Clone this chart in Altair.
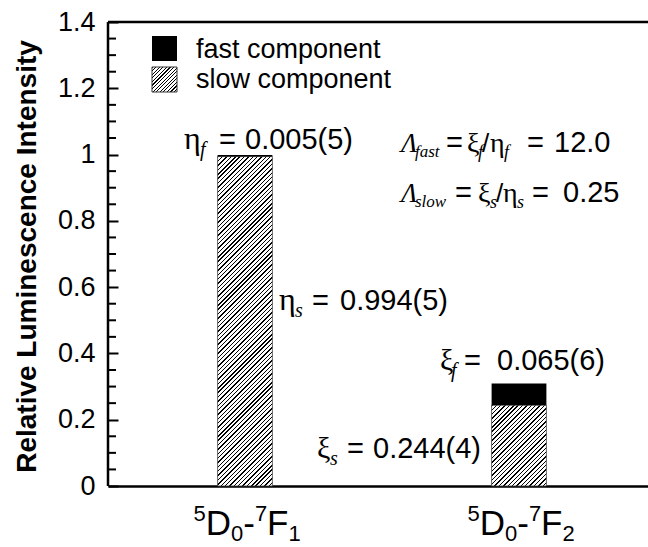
import math
import altair as alt
import pandas as pd

# ---- data -----------------------------------------------------------------
transitions = ["5D0-7F1", "5D0-7F2"]
slow_values = [0.994, 0.244]          # eta_s, xi_s
fast_values = [0.005, 0.065]          # eta_f, xi_f
slow_err = ["5", "4"]
fast_err = ["5", "6"]
lambda_fast = "12.0"
lambda_slow = "0.25"

major_ticks = [0, 0.2, 0.4, 0.6, 0.8, 1.0, 1.2, 1.4]
minor_ticks = [0.05, 0.1, 0.15, 0.25, 0.3, 0.35, 0.45, 0.5, 0.55, 0.65, 0.7,
               0.75, 0.85, 0.9, 0.95, 1.05, 1.1, 1.15, 1.25, 1.3, 1.35]

# ---- layout ---------------------------------------------------------------
LEFT, TOP, W, H = 108, 22, 540, 464
X_RANGE = 548                      # band range runs slightly past the right edge
Y_MAX = major_ticks[-1]
TICK = 10                          # inward tick length
SANS = "Liberation Sans, Arial, Helvetica, sans-serif"
SERIF = "Liberation Serif, Times New Roman, serif"
STEP = X_RANGE / 2
BAND = 0.2 * STEP

df = pd.DataFrame({"transition": transitions, "slow": slow_values, "fast": fast_values})


def hatch(w, h, spacing=3.1, ink=0.33):
    """Diagonal '/' hatching as a striped linear gradient for a w x h box."""
    k = (w + h) / (w * w + h * h)
    span = (w + h) / math.sqrt(2)
    n = max(1, round(span / spacing))
    stops = []
    for i in range(n):
        a, b, c = i / n, (i + ink) / n, (i + 1) / n
        stops += [alt.GradientStop(offset=a, color="black"),
                  alt.GradientStop(offset=b, color="black"),
                  alt.GradientStop(offset=b, color="white"),
                  alt.GradientStop(offset=c, color="white")]
    return alt.LinearGradient(gradient="linear", x1=0, y1=0, x2=k * w, y2=k * h, stops=stops)


x_scale = alt.Scale(type="band", range=[0, X_RANGE], paddingInner=0.8, paddingOuter=0.4)
y_scale = alt.Scale(domain=[0, Y_MAX], nice=False)

# every layer carries the same axis definitions so they merge into one axis each.
# The y axis is pulled into the plot by the tick length so its ticks point inward;
# the axis line itself is drawn as a separate rule at the plot edge.
x_axis = alt.Axis(labels=False, ticks=False, title=None, domainWidth=2.5,
                  domainColor="black", grid=False)
y_axis = alt.Axis(values=major_ticks, format="~g", offset=-TICK, ticks=True, tickSize=TICK,
                  tickWidth=2, tickColor="black", domain=False, labelPadding=13,
                  labelFont=SANS, labelFontSize=27, labelColor="black", grid=False,
                  title="Relative Luminescence Intensity", titleFont=SANS,
                  titleFontSize=28, titleFontWeight="bold", titleColor="black",
                  titleAngle=270, titleAlign="center", titleBaseline="alphabetic",
                  titleX=35 - LEFT - TICK, titleY=256 - TOP)


def X(**kw):
    return alt.X("transition:N", sort=transitions, scale=x_scale, axis=x_axis, **kw)


def Y(field):
    return alt.Y(field, scale=y_scale, axis=y_axis)


base = alt.Chart(df)

# slow components (hatched), one layer per bar so each gets its own stripe geometry
slow_layers = []
for t, v in zip(transitions, slow_values):
    slow_layers.append(
        base.transform_filter(alt.datum.transition == t)
        .mark_bar(fill=hatch(BAND, v * H / Y_MAX), stroke="#444", strokeWidth=0.8)
        .encode(x=X(), y=Y("slow:Q"))
    )

# fast components (solid black) stacked on top
fast_layer = base.transform_calculate(total="datum.slow + datum.fast").mark_bar(color="black").encode(
    x=X(), y=Y("slow:Q"), y2="total:Q")

# minor inward ticks
minor_rules = alt.Chart(pd.DataFrame({"v": minor_ticks})).mark_rule(color="black", strokeWidth=2).encode(
    y=Y("v:Q"), x=alt.value(0), x2=alt.value(8))

# frame: top line and left axis line
top_rule = alt.Chart(pd.DataFrame({"v": [Y_MAX]})).mark_rule(color="black", strokeWidth=2.5).encode(
    y=Y("v:Q"), x=alt.value(0), x2=alt.value(X_RANGE))
left_rule = alt.Chart(pd.DataFrame({"v": [Y_MAX], "v0": [0]})).mark_rule(
    color="black", strokeWidth=2.5).encode(y=Y("v:Q"), y2="v0:Q", x=alt.value(0))


def txt(text, x, y, size, font=SANS, style="normal"):
    return alt.Chart(alt.Data(values=[{}])).mark_text(
        text=text, fontSize=size, font=font, fontStyle=style, align="left",
        baseline="alphabetic", color="black").encode(x=alt.value(x - LEFT), y=alt.value(y - TOP))


num = lambda v, e: f"{v:.3f}({e})"

annotations = [
    # eta_f
    txt("η", 184, 149, 32, SERIF), txt("f", 200, 156, 20, SERIF, "italic"),
    txt("=", 219, 149, 29), txt(num(fast_values[0], fast_err[0]), 245, 149, 29),
    # eta_s
    txt("η", 279, 310, 32, SERIF), txt("s", 295, 317, 20, SERIF, "italic"),
    txt("=", 312, 310, 29), txt(num(slow_values[0], slow_err[0]), 340, 310, 29),
    # xi_f
    txt("ξ", 440, 370, 30, SERIF), txt("f", 451, 377, 20, SERIF, "italic"),
    txt("=", 464, 370, 29), txt(num(fast_values[1], fast_err[1]), 497, 370, 29),
    # xi_s
    txt("ξ", 317, 458, 30, SERIF), txt("s", 330, 465, 20, SERIF, "italic"),
    txt("=", 347, 458, 29), txt(num(slow_values[1], slow_err[1]), 373, 458, 29),
    # Lambda_fast
    txt("Λ", 401, 152, 27, SERIF, "italic"), txt("fast", 415, 157, 17, SERIF, "italic"),
    txt("=", 446, 152, 29), txt("ξ", 467, 152, 28, SERIF), txt("f", 478, 158, 18, SERIF, "italic"),
    txt("/", 482, 152, 26), txt("η", 490, 152, 28, SERIF), txt("f", 504, 158, 18, SERIF, "italic"),
    txt("=", 527, 152, 29), txt(lambda_fast, 554, 152, 29),
    # Lambda_slow
    txt("Λ", 401, 202, 27, SERIF, "italic"), txt("slow", 415, 207, 17, SERIF, "italic"),
    txt("=", 455, 202, 29), txt("ξ", 478, 202, 28, SERIF), txt("s", 490, 208, 18, SERIF, "italic"),
    txt("/", 496, 202, 26), txt("η", 503, 202, 28, SERIF), txt("s", 517, 208, 18, SERIF, "italic"),
    txt("=", 532, 202, 29), txt(lambda_slow, 563, 202, 29),
]

# legend
legend_fast = alt.Chart(alt.Data(values=[{}])).mark_square(
    size=625, filled=True, color="black", opacity=1).encode(
    x=alt.value(164.5 - LEFT), y=alt.value(48.5 - TOP))
legend_slow = alt.Chart(alt.Data(values=[{}])).mark_square(
    size=625, filled=True, opacity=1, fill=hatch(25, 25, spacing=2.6), stroke="#333", strokeWidth=1).encode(
    x=alt.value(164.5 - LEFT), y=alt.value(79.5 - TOP))
legend_text = [txt("fast component", 196, 58, 27), txt("slow component", 196, 88, 27)]

# category labels: spectroscopic terms with super/subscripts built from the name
label_parts = [  # (character index, dx from band centre, baseline, size)
    (0, -51.5, 521, 22), (1, -39.3, 535, 35), (2, -14.0, 541, 22), (3, -1.8, 535, 35),
    (4, 9.9, 521, 22), (5, 22.1, 535, 35), (6, 43.5, 541, 22),
]
cat_layers = []
for idx, dx, yb, size in label_parts:
    cat_layers.append(
        base.transform_calculate(p=f"substring(datum.transition, {idx}, {idx + 1})")
        .mark_text(align="left", baseline="alphabetic", fontSize=size, font=SANS, color="black", dx=dx)
        .encode(x=X(bandPosition=0.5), y=alt.value(yb - TOP), text="p:N")
    )

chart = alt.layer(
    *slow_layers, fast_layer, top_rule, left_rule, minor_rules,
    *annotations, legend_fast, legend_slow, *legend_text, *cat_layers,
).properties(
    width=W, height=H,
    padding={"left": LEFT, "top": TOP, "right": 0, "bottom": 547 - TOP - H},
    autosize=alt.AutoSizeParams(type="none"),
    background="white",
).configure_view(stroke=None)

chart.save("out.html", embed_options={"renderer": "svg", "actions": False})
